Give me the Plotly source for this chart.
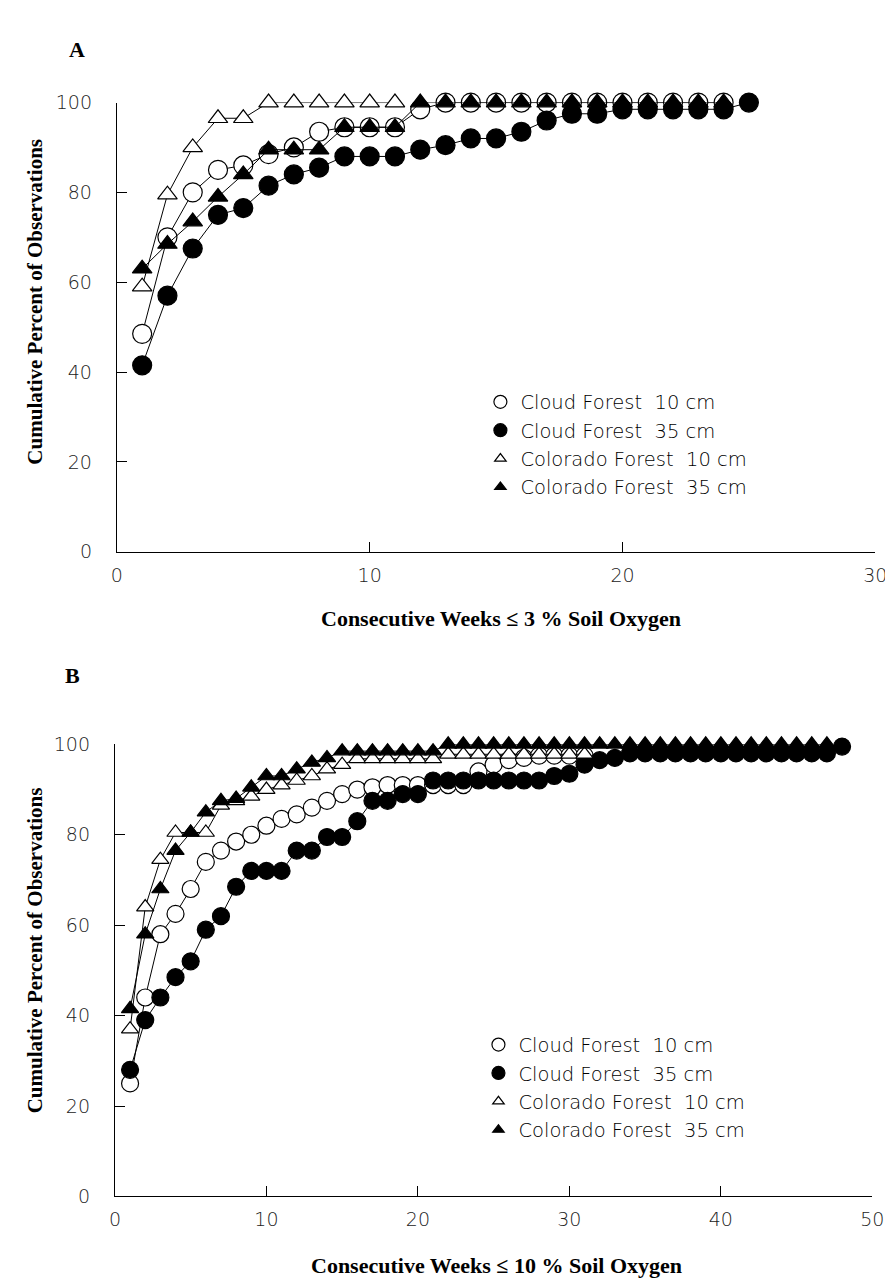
import plotly.graph_objects as go

W, H = 893, 1282

# ---------------- Panel A data (<= 3 % soil oxygen) ----------------
a_cf10_x = list(range(1, 25))
a_cf10_y = [48.5, 70, 80, 85, 86, 88.5, 90, 93.5, 94.5, 94.5, 94.5, 98.5,
            100, 100, 100, 100, 100, 100, 100, 100, 100, 100, 100, 100]
a_cf35_x = list(range(1, 26))
a_cf35_y = [41.5, 57, 67.5, 75, 76.5, 81.5, 84, 85.5, 88, 88, 88, 89.5,
            90.5, 92, 92, 93.5, 96, 97.5, 97.5, 98.5, 98.5, 98.5, 98.5, 98.5, 100]
a_co10_x = list(range(1, 12))
a_co10_y = [59, 79.5, 90, 96.5, 96.5, 100, 100, 100, 100, 100, 100]
a_co35_x = list(range(1, 25))
a_co35_y = [63, 68.5, 73.5, 79, 84, 89.5, 89.5, 89.5, 94.5, 94.5, 94.5, 100,
            100, 100, 100, 100, 100, 100, 100, 100, 100, 100, 100, 100]

# ---------------- Panel B data (<= 10 % soil oxygen) ----------------
b_cf10_x = list(range(1, 32))
b_cf10_y = [25, 44, 58, 62.5, 68, 74, 76.5, 78.5, 80, 82, 83.5, 84.5, 86, 87.5,
            89, 90, 90.5, 91, 91, 91, 91, 91, 91, 94, 95.5, 96.5, 97, 97.5,
            97.5, 97.5, 97.5]
b_cf35_x = list(range(1, 49))
b_cf35_y = [28, 39, 44, 48.5, 52, 59, 62, 68.5, 72, 72, 72, 76.5, 76.5, 79.5,
            79.5, 83, 87.5, 87.5, 89, 89, 92, 92, 92, 92, 92, 92, 92, 92,
            93, 93.5, 95.5, 96.5, 97, 98, 98, 98, 98, 98, 98, 98, 98, 98, 98,
            98, 98, 98, 98, 99.5]
b_co10_x = list(range(1, 32))
b_co10_y = [37, 64, 74.5, 80.5, 80.5, 80.5, 86.5, 87.5, 88.5, 90, 91, 92,
            93, 94.5, 95.5, 96.8, 96.8, 96.8, 96.8, 96.8, 96.8, 97.8, 97.8,
            97.8, 97.8, 97.8, 97.8, 97.8, 97.8, 97.8, 97.8]
b_co35_x = list(range(1, 48))
b_co35_y = [41.5, 58, 68, 76.5, 80.5, 85, 87.5, 88, 90.5, 93, 93, 94.5, 96,
            97, 98.5, 98.5, 98.5, 98.5, 98.5, 98.5, 98.5] + [100] * 26

x_ticks_a = [0, 10, 20, 30]
x_ticks_b = [0, 10, 20, 30, 40, 50]
y_ticks = [0, 20, 40, 60, 80, 100]

series_names = ["Cloud Forest  10 cm", "Cloud Forest  35 cm",
                "Colorado Forest  10 cm", "Colorado Forest  35 cm"]
symbols = ["circle", "circle", "triangle-up", "triangle-up"]
fills = ["white", "black", "white", "black"]

panel_a = [(a_cf10_x, a_cf10_y), (a_cf35_x, a_cf35_y), (a_co10_x, a_co10_y), (a_co35_x, a_co35_y)]
panel_b = [(b_cf10_x, b_cf10_y), (b_cf35_x, b_cf35_y), (b_co10_x, b_co10_y), (b_co35_x, b_co35_y)]

fig = go.Figure()

def add_panel(data, xa, ya, circ, tri, legend):
    for i, (xs, ys) in enumerate(data):
        size = circ if symbols[i] == "circle" else tri
        fig.add_trace(go.Scatter(
            x=xs, y=ys, mode="lines+markers", xaxis=xa, yaxis=ya,
            line=dict(color="black", width=1),
            marker=dict(symbol=symbols[i], size=size, color=fills[i],
                        line=dict(color="black", width=1.2)),
            showlegend=False, cliponaxis=False))
    for i in range(4):
        size = 13 if symbols[i] == "circle" else 10
        fig.add_trace(go.Scatter(
            x=[None], y=[None], mode="markers", xaxis=xa, yaxis=ya,
            name=series_names[i], legend=legend, legendgroup=legend + str(i),
            marker=dict(symbol=symbols[i], size=size, color=fills[i],
                        line=dict(color="black", width=1.2))))

add_panel(panel_a, "x", "y", 19, 17, "legend")
add_panel(panel_b, "x2", "y2", 17, 15, "legend2")

def px_x(p):
    return p / W

def px_y(p):
    return 1 - p / H

sans = "DejaVu Sans, Liberation Sans, Arial, sans-serif"
tick_font = dict(family=sans, size=19, color="#222", weight=300)
axis_common = dict(showgrid=False, zeroline=False, showline=True, linecolor="black",
                   linewidth=1.2, ticks="inside", ticklen=10, tickcolor="black",
                   tickwidth=1, tickfont=tick_font)

legend_font = dict(family=sans, size=19.5, color="black", weight=300)

fig.update_layout(
    width=W, height=H, margin=dict(l=0, r=0, t=0, b=0),
    paper_bgcolor="white", plot_bgcolor="white",
    xaxis=dict(domain=[px_x(105), px_x(879)], range=[0, 30], tickvals=x_ticks_a,
               anchor="y", ticklabelstandoff=6, **axis_common),
    yaxis=dict(domain=[px_y(542), px_y(85)], range=[0, 100], tickvals=y_ticks,
               anchor="x", ticklabelstandoff=20, **axis_common),
    xaxis2=dict(domain=[px_x(103), px_x(876)], range=[0, 50], tickvals=x_ticks_b,
                anchor="y2", ticklabelstandoff=6, **axis_common),
    yaxis2=dict(domain=[px_y(1198), px_y(738)], range=[0, 100], tickvals=y_ticks,
                anchor="x2", ticklabelstandoff=20, **axis_common),
    legend=dict(x=px_x(476), y=px_y(370), xanchor="left", yanchor="top",
                font=legend_font, tracegroupgap=0, bgcolor="rgba(0,0,0,0)"),
    legend2=dict(x=px_x(474), y=px_y(1024), xanchor="left", yanchor="top",
                 font=legend_font, tracegroupgap=0, bgcolor="rgba(0,0,0,0)"),
)

serif = "Liberation Serif, Times New Roman, serif"
xtitle_font = dict(family=serif, size=22, color="black")
ytitle_font = dict(family=serif, size=21, color="black")
letter_font = dict(family=serif, size=22, color="black")

annotations = [
    dict(text="<b>A</b>", x=px_x(64), y=px_y(31), font=letter_font),
    dict(text="<b>B</b>", x=px_x(60), y=px_y(668), font=letter_font),
    dict(text="<b>Consecutive Weeks ≤ 3 % Soil Oxygen</b>", x=px_x(497), y=px_y(610), font=xtitle_font),
    dict(text="<b>Consecutive Weeks ≤ 10 % Soil Oxygen</b>", x=px_x(492), y=px_y(1268), font=xtitle_font),
    dict(text="<b>Cumulative Percent of Observations</b>", x=px_x(21), y=px_y(288),
         textangle=-90, font=ytitle_font),
    dict(text="<b>Cumulative Percent of Observations</b>", x=px_x(21), y=px_y(948),
         textangle=-90, font=ytitle_font),
]
for a in annotations:
    a.update(xref="paper", yref="paper", showarrow=False, xanchor="center", yanchor="middle")
fig.update_layout(annotations=annotations)

fig.write_html("out.html")
